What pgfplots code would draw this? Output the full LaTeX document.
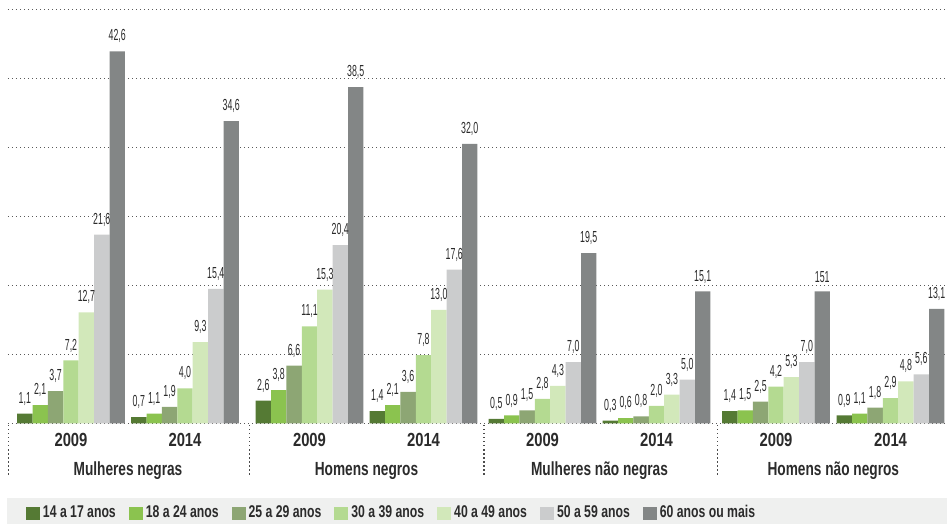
\documentclass[border=0pt]{standalone}
\usepackage{fontspec}
\setmainfont{Liberation Sans}
\newfontfamily\condfont{Liberation Sans}[FakeStretch=0.72]
\newfontfamily\yearfont{Liberation Sans}[FakeStretch=0.78]
\newfontfamily\numfont{Liberation Sans}[FakeStretch=0.55]
\usepackage{pgfplots}
\usepackage{pgfplotstable}
\pgfplotsset{compat=1.18}

\definecolor{cA}{HTML}{557A34}
\definecolor{cB}{HTML}{8BC34F}
\definecolor{cC}{HTML}{8DA674}
\definecolor{cD}{HTML}{B4DA91}
\definecolor{cE}{HTML}{D2E8BA}
\definecolor{cF}{HTML}{CBCCCD}
\definecolor{cG}{HTML}{838686}
\definecolor{band}{HTML}{EFF0EF}
\definecolor{txt}{HTML}{2B2B2B}

% x = centre of each year group (in pixels of the original chart)
\pgfplotstableread{
x     a    b    c    d     e     f     g     la   lb   lc   ld   le   lf   lg
71    1.1  2.1  3.7  7.2   12.7  21.6  42.6  1,1  2,1  3,7  7,2  12,7 21,6 42,6
185   0.7  1.1  1.9  4.0   9.3   15.4  34.6  0,7  1,1  1,9  4,0  9,3  15,4 34,6
309.5 2.6  3.8  6.6  11.1  15.3  20.4  38.5  2,6  3,8  6,6  11,1 15,3 20,4 38,5
423.5 1.4  2.1  3.6  7.8   13.0  17.6  32.0  1,4  2,1  3,6  7,8  13,0 17,6 32,0
542.5 0.5  0.9  1.5  2.8   4.3   7.0   19.5  0,5  0,9  1,5  2,8  4,3  7,0  19,5
656.5 0.3  0.6  0.8  2.0   3.3   5.0   15.1  0,3  0,6  0,8  2,0  3,3  5,0  15,1
776   1.4  1.5  2.5  4.2   5.3   7.0   15.1  1,4  1,5  2,5  4,2  5,3  7,0  151
890.5 0.9  1.1  1.8  2.9   4.8   5.6   13.1  0,9  1,1  1,8  2,9  4,8  5,6  13,1
}\datatable

\begin{document}
\begin{tikzpicture}
\begin{axis}[
    x=0.5pt, y=4.367pt,
    xmin=8, xmax=947, ymin=-11.53, ymax=48.47,
    clip=false,
    axis line style={draw=none},
    tick style={draw=none},
    xtick=\empty,
    ytick={0,7.9,15.8,23.7,31.6,39.5,47.4},
    yticklabels={},
    ymajorgrids=true,
    grid style={black!65, line width=0.7pt, dash pattern=on 0.7pt off 1.3pt},
    ybar=0pt,
    bar width=7.7pt,
    nodes near coords,
    point meta=explicit symbolic,
    every node near coord/.append style={font=\numfont\fontsize{8}{9}\selectfont,
        text=txt, anchor=south, inner sep=0pt, yshift=4pt},
    legend columns=7,
    legend style={at={(axis cs:26,-10.28)}, anchor=west, draw=none, fill=none,
        inner sep=0pt, outer sep=0pt,
        font=\condfont\bfseries\fontsize{8.5}{9}\selectfont, text=txt,
        nodes={inner sep=0pt},
        /tikz/column sep=1.5pt,
        /tikz/every even column/.append style={column sep=6.5pt}},
    legend image code/.code={\fill[#1] (0pt,-3.25pt) rectangle (7pt,3.25pt);},
]
\addplot[fill=cA, draw=none] table[x=x, y=a, meta=la] {\datatable};
\addplot[fill=cB, draw=none] table[x=x, y=b, meta=lb] {\datatable};
\addplot[fill=cC, draw=none] table[x=x, y=c, meta=lc] {\datatable};
\addplot[fill=cD, draw=none] table[x=x, y=d, meta=ld] {\datatable};
\addplot[fill=cE, draw=none] table[x=x, y=e, meta=le] {\datatable};
\addplot[fill=cF, draw=none] table[x=x, y=f, meta=lf] {\datatable};
\addplot[fill=cG, draw=none] table[x=x, y=g, meta=lg] {\datatable};
\legend{14 a 17 anos, 18 a 24 anos, 25 a 29 anos, 30 a 39 anos,
        40 a 49 anos, 50 a 59 anos, 60 anos ou mais}

% corners of the whole picture
\coordinate (bl) at (axis cs:0,-11.53);
\coordinate (tr) at (axis cs:947,48.47);
% legend band
\fill[band] (axis cs:7,-8.55) rectangle (axis cs:947,-11.53);

% group separators
\foreach \sx in {8.3,249.5,484,717.5}{
  \edef\tmp{\noexpand\draw[black!70, line width=0.7pt, dash pattern=on 0.7pt off 1.3pt]
    (axis cs:\sx,-0.2) -- (axis cs:\sx,-6.0);}\tmp
}

% year labels
\tikzset{yr/.style={font=\yearfont\bfseries\fontsize{9.5}{10}\selectfont, text=txt, inner sep=0pt},
         cat/.style={font=\condfont\bfseries\fontsize{9.5}{10}\selectfont, text=txt, inner sep=0pt}}
\node[yr] at (axis cs:71,-1.91) {2009};
\node[yr] at (axis cs:185,-1.91) {2014};
\node[yr] at (axis cs:309.5,-1.91) {2009};
\node[yr] at (axis cs:423.5,-1.91) {2014};
\node[yr] at (axis cs:542.5,-1.91) {2009};
\node[yr] at (axis cs:656.5,-1.91) {2014};
\node[yr] at (axis cs:776,-1.91) {2009};
\node[yr] at (axis cs:890.5,-1.91) {2014};

% category labels
\node[cat] at (axis cs:128,-5.44) {Mulheres negras};
\node[cat] at (axis cs:366.5,-5.44) {Homens negros};
\node[cat] at (axis cs:599.5,-5.44) {Mulheres não negras};
\node[cat] at (axis cs:833.3,-5.44) {Homens não negros};
\end{axis}
\pgfresetboundingbox
\path (bl) rectangle (tr);
\end{tikzpicture}
\end{document}
